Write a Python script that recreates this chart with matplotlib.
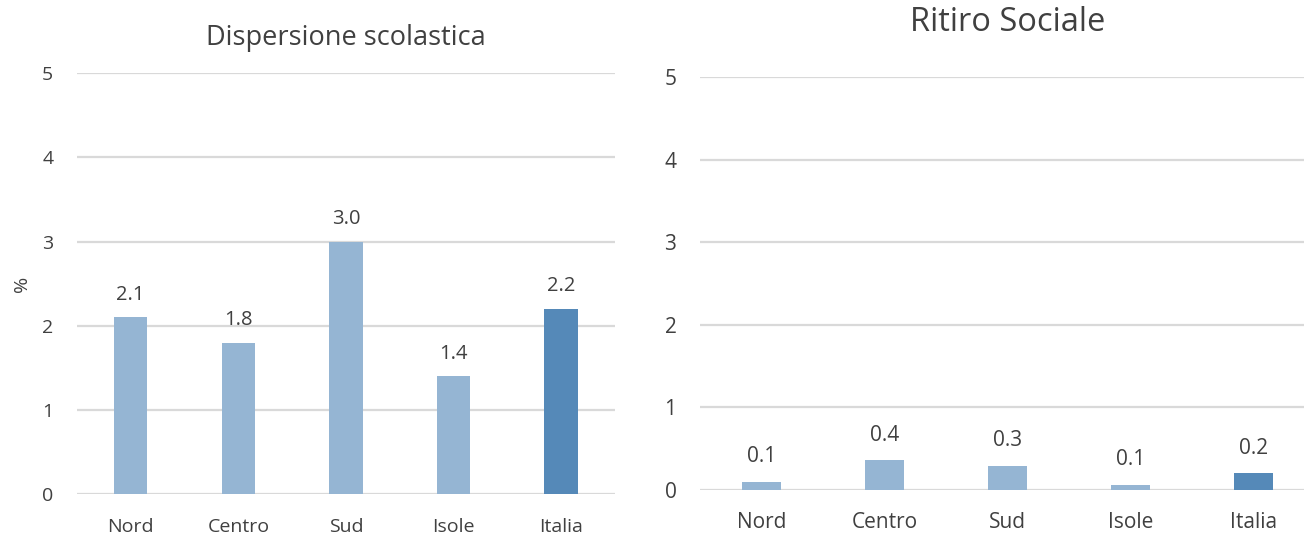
import matplotlib
matplotlib.use("Agg")
import matplotlib.pyplot as plt

# data
regioni = ["Nord", "Centro", "Sud", "Isole", "Italia"]
dispersione = [2.1, 1.8, 3.0, 1.4, 2.2]
ritiro = [0.10, 0.36, 0.29, 0.06, 0.20]
yticks = [0, 1, 2, 3, 4, 5]

light = "#95b5d3"
dark = "#5589b8"
txt = "#404040"
grid = "#d9d9d9"

plt.rcParams["font.family"] = ["Open Sans", "DejaVu Sans"]

fig = plt.figure(figsize=(13.04, 5.34), dpi=100)


def draw_panel(ax, values, title, title_size, tick_size, label_size, label_off, title_pad, xpad):
	colors = [light] * (len(values) - 1) + [dark]
	x = range(len(values))
	ax.bar(x, values, width=0.31, color=colors, zorder=3)
	for i, v in enumerate(values):
		ax.annotate("{:.1f}".format(v), (i, v), xytext=(0, label_off), textcoords="offset points",
			ha="center", va="bottom", fontsize=label_size, color=txt)
	ax.set_xlim(-0.5, len(values) - 0.5)
	ax.set_ylim(0, 5)
	ax.set_yticks(yticks)
	ax.set_xticks(list(x))
	ax.set_xticklabels(regioni)
	ax.tick_params(axis="both", length=0, labelsize=tick_size, colors=txt)
	ax.tick_params(axis="y", pad=17)
	ax.tick_params(axis="x", pad=xpad)
	ax.grid(axis="y", color=grid, linewidth=1.6, zorder=0)
	for s in ax.spines.values():
		s.set_visible(False)
	ax.set_title(title, fontsize=title_size, color=txt, pad=title_pad)


ax1 = fig.add_axes([0.0590, 0.0749, 0.4126, 0.788])
draw_panel(ax1, dispersione, "Dispersione scolastica", 19.5, 14, 14.5, 9, 20, 17)
ax1.set_ylabel("%", fontsize=14, color=txt, labelpad=8)

ax2 = fig.add_axes([0.5368, 0.0824, 0.4716, 0.7734])
draw_panel(ax2, ritiro, "Ritiro Sociale", 23.5, 15, 15, 10.5, 33, 16)

fig.savefig("out.png", dpi=100)
